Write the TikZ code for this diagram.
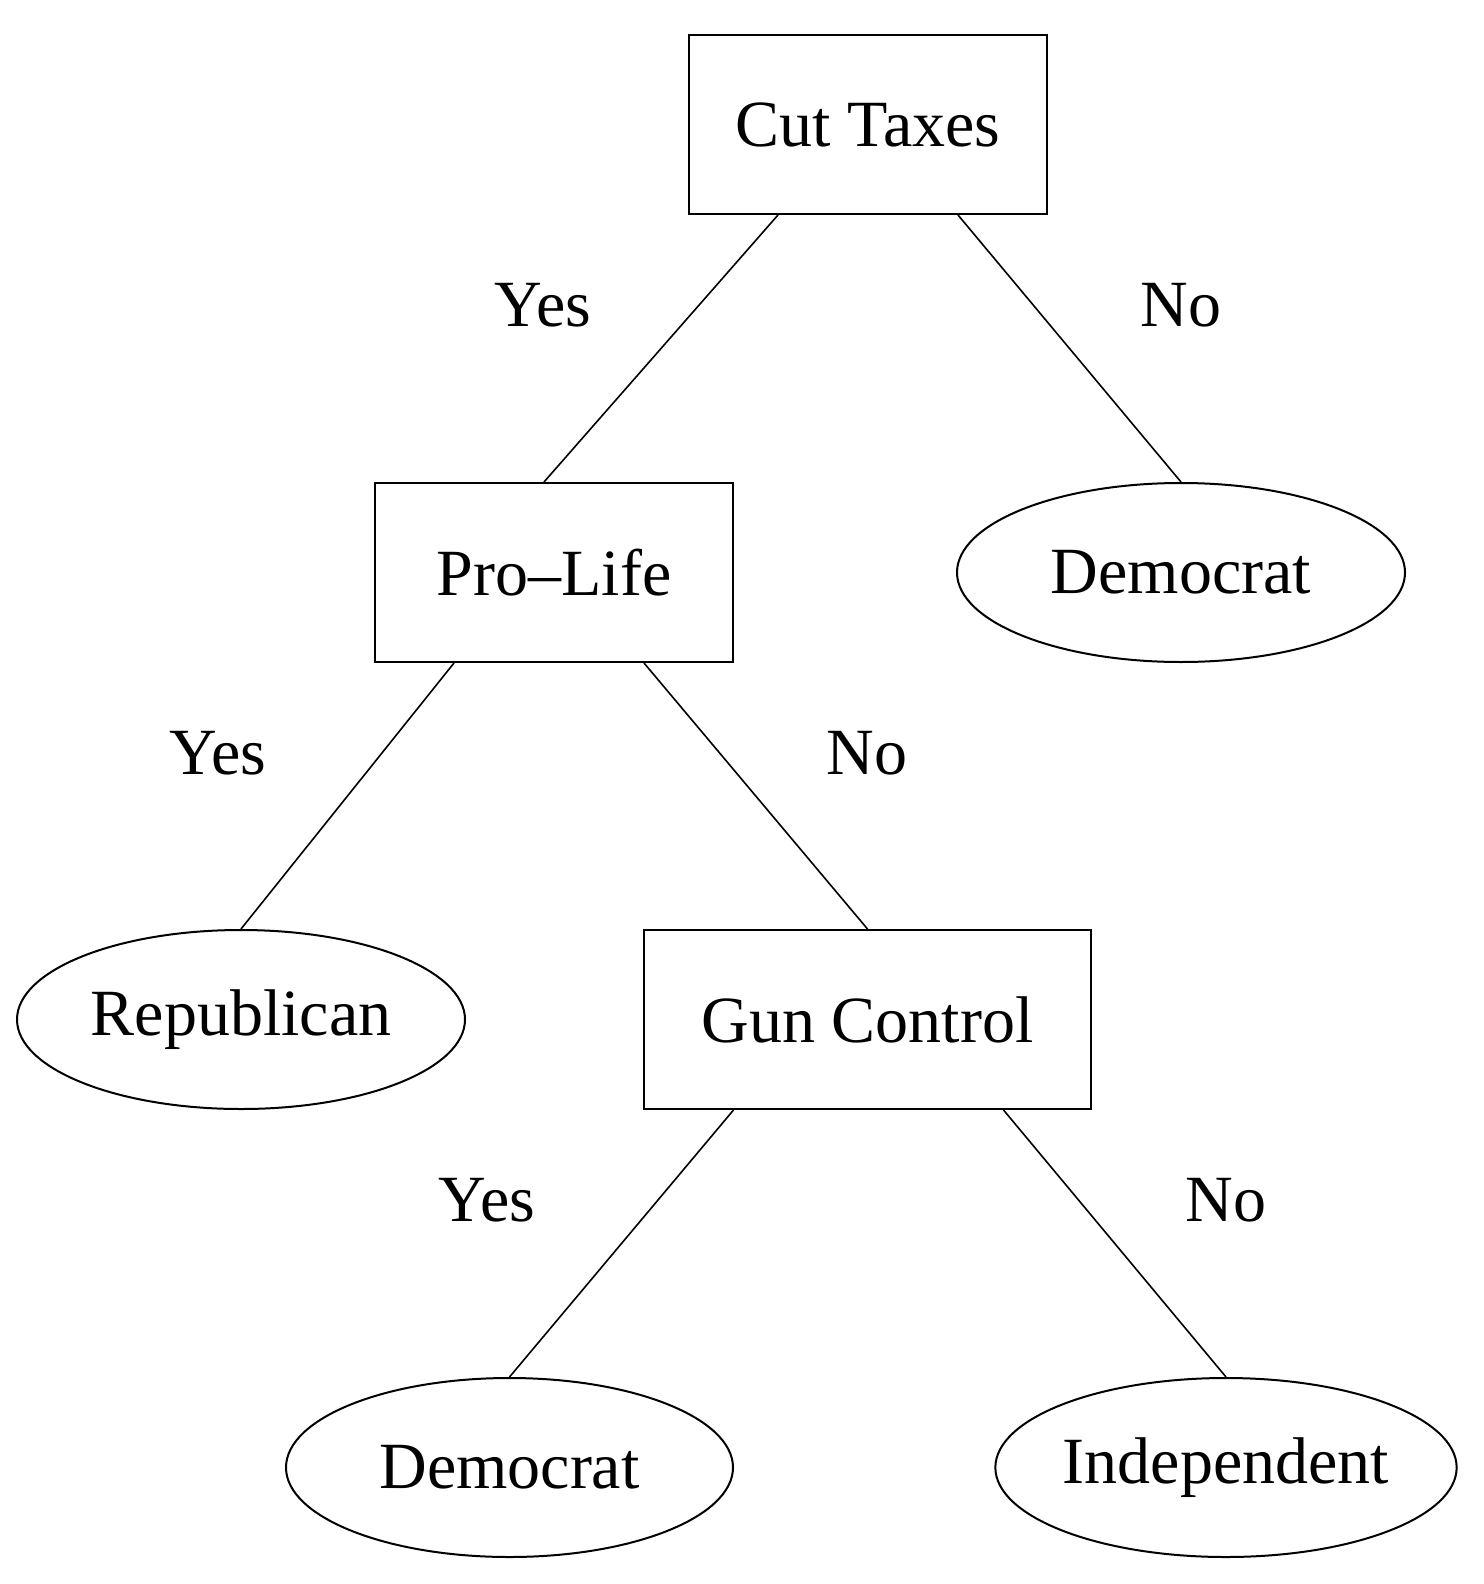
\documentclass[tikz,border=0pt]{standalone}
\usepackage{fontspec}
\setmainfont{Liberation Serif}
\usetikzlibrary{shapes.geometric,calc}
\begin{document}
\begin{tikzpicture}[x=1pt,y=-1pt,
  every node/.style={font=\fontsize{66}{70}\selectfont},
  box/.style={draw,line width=2pt,minimum width=358pt,minimum height=179pt,inner sep=0pt},
  leaf/.style={draw,ellipse,line width=2pt,minimum width=448pt,minimum height=179pt,inner sep=0pt},
  edge/.style={line width=1.6pt}]
\useasboundingbox (0,0) rectangle (1483,1584);
\node[box] (ct) at (868,124.5) {Cut Taxes};
\node[box] (pl) at (554,572.5) {Pro--Life};
\node[leaf] (d1) at (1181,572.5) {Democrat};
\node[leaf] (rp) at (241,1019.5) {Republican};
\node[box,minimum width=447pt] (gc) at (867.5,1019.5) {Gun Control};
\node[leaf,minimum width=447pt] (d2) at (509.5,1467.5) {Democrat};
\node[leaf] (in) at (1226,1467.5) {Independent};
\draw[edge] ($(ct.south)+(-90,0)$) -- ($(pl.north)+(-10,0)$);
\draw[edge] ($(ct.south)+(90,0)$) -- (d1.north);
\draw[edge] ($(pl.south)+(-100,0)$) -- (rp.north);
\draw[edge] ($(pl.south)+(90,0)$) -- (gc.north);
\draw[edge] ($(gc.south)+(-134,0)$) -- (d2.north);
\draw[edge] ($(gc.south)+(136,0)$) -- (in.north);
\node (l1) at (543,305) {Yes};
\node (l2) at (1181,305) {No};
\node (l3) at (218,753) {Yes};
\node (l4) at (867,753) {No};
\node (l5) at (487,1200) {Yes};
\node (l6) at (1226,1200) {No};
\end{tikzpicture}
\end{document}
